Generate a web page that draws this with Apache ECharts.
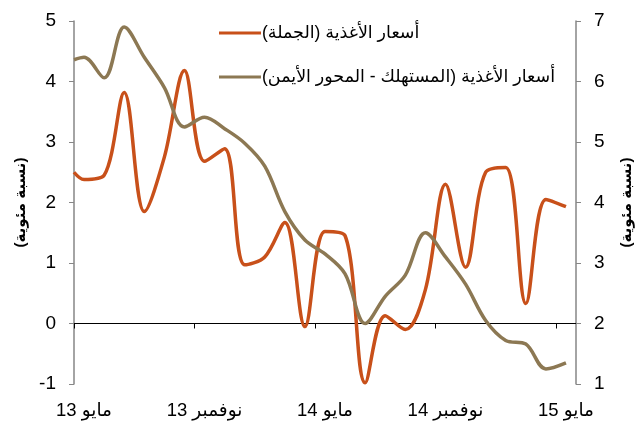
<!DOCTYPE html>
<html>
<head>
<meta charset="utf-8">
<script src="https://cdn.jsdelivr.net/npm/echarts@6/dist/echarts.min.js"></script>
<style>
  html, body { margin: 0; padding: 0; background: #fff; }
  #main { width: 638px; height: 423px; }
</style>
</head>
<body>
<div id="main"></div>
<script>
// الأشهر: من مايو 2013 إلى مايو 2015
var months = ['مايو 13', 'يونيو 13', 'يوليو 13', 'أغسطس 13', 'سبتمبر 13', 'أكتوبر 13',
  'نوفمبر 13', 'ديسمبر 13', 'يناير 14', 'فبراير 14', 'مارس 14', 'أبريل 14',
  'مايو 14', 'يونيو 14', 'يوليو 14', 'أغسطس 14', 'سبتمبر 14', 'أكتوبر 14',
  'نوفمبر 14', 'ديسمبر 14', 'يناير 15', 'فبراير 15', 'مارس 15', 'أبريل 15', 'مايو 15'];

// أسعار الأغذية (الجملة) - المحور الأيسر
var wholesaleStart = 2.5;
var wholesale = [2.38, 2.45, 3.82, 1.85, 2.75, 4.18, 2.68, 2.89, 0.97, 1.1, 1.67, -0.05,
  1.52, 1.45, -0.98, 0.13, -0.1, 0.56, 2.3, 0.93, 2.5, 2.58, 0.33, 2.05, 1.93];

// أسعار الأغذية (المستهلك) - المحور الأيمن
var consumerStart = 6.36;
var consumer = [6.4, 6.06, 6.9, 6.4, 5.9, 5.25, 5.41, 5.22, 4.98, 4.6, 3.85, 3.38,
  3.15, 2.82, 2.0, 2.45, 2.8, 3.5, 3.1, 2.65, 2.05, 1.72, 1.66, 1.25, 1.35];

var leftTicks = [-1, 0, 1, 2, 3, 4, 5];
var rightTicks = [1, 2, 3, 4, 5, 6, 7];

var nameWholesale = 'أسعار الأغذية (الجملة)\u200F';
var nameConsumer = 'أسعار الأغذية (المستهلك - المحور الأيمن)\u200F';
var unitName = '\u200F(نسبة مئوية)\u200F';

function toPoints(start, vals) {
  var pts = [[0, start]];
  vals.forEach(function (v, i) { pts.push([i + 0.5, v]); });
  return pts;
}

var font = 'Arial, "Liberation Sans", "DejaVu Sans", sans-serif';
var chart = echarts.init(document.getElementById('main'));

chart.setOption({
  animation: false,
  grid: { left: 74, right: 62, top: 21, bottom: 39, outerBoundsMode: 'none' },
  legend: {
    orient: 'vertical',
    left: 214,
    top: 19,
    itemGap: 26,
    itemWidth: 42,
    itemHeight: 3,
    icon: 'rect',
    textStyle: { fontSize: 17.5, color: '#000', fontFamily: font, padding: [0, 0, 0, -4] },
    data: [nameWholesale, nameConsumer]
  },
  xAxis: [{
    type: 'value',
    min: 0,
    max: months.length,
    axisLine: { onZero: true, onZeroAxisIndex: 0, lineStyle: { color: '#000', width: 1 } },
    axisTick: { show: true, length: 5, customValues: [0, 6, 12, 18, 24], lineStyle: { color: '#000' } },
    axisLabel: { show: false },
    splitLine: { show: false }
  }, {
    type: 'category',
    position: 'bottom',
    boundaryGap: true,
    data: months,
    axisLine: { show: false, onZero: false },
    axisTick: { show: false },
    axisLabel: { interval: 5, margin: 17, fontSize: 18.5, color: '#000', fontFamily: font },
    splitLine: { show: false }
  }],
  yAxis: [{
    type: 'value',
    min: leftTicks[0],
    max: leftTicks[leftTicks.length - 1],
    interval: 1,
    name: unitName,
    nameLocation: 'middle',
    nameRotate: 90,
    nameGap: 44,
    nameTextStyle: { fontSize: 15, fontWeight: 'bold', color: '#000', fontFamily: font },
    axisLine: { show: true, lineStyle: { color: '#868686', width: 1.5 } },
    axisTick: { show: true, length: 5, lineStyle: { color: '#868686' } },
    axisLabel: { fontSize: 19, color: '#000', margin: 18, fontFamily: font },
    splitLine: { show: false }
  }, {
    type: 'value',
    position: 'right',
    min: rightTicks[0],
    max: rightTicks[rightTicks.length - 1],
    interval: 1,
    name: unitName,
    nameLocation: 'middle',
    nameRotate: 90,
    nameGap: 43,
    nameTextStyle: { fontSize: 15, fontWeight: 'bold', color: '#000', fontFamily: font },
    axisLine: { show: true, lineStyle: { color: '#868686', width: 1.5 } },
    axisTick: { show: true, length: 5, lineStyle: { color: '#868686' } },
    axisLabel: { fontSize: 19, color: '#000', margin: 18, fontFamily: font },
    splitLine: { show: false }
  }],
  series: [{
    name: nameWholesale,
    type: 'line',
    xAxisIndex: 0,
    yAxisIndex: 0,
    smooth: 0.35,
    showSymbol: false,
    color: '#C8501A',
    lineStyle: { width: 3.5, color: '#C8501A' },
    data: toPoints(wholesaleStart, wholesale)
  }, {
    name: nameConsumer,
    type: 'line',
    xAxisIndex: 0,
    yAxisIndex: 1,
    smooth: 0.35,
    showSymbol: false,
    color: '#8C7853',
    lineStyle: { width: 3.5, color: '#8C7853' },
    data: toPoints(consumerStart, consumer)
  }]
});
</script>
</body>
</html>
